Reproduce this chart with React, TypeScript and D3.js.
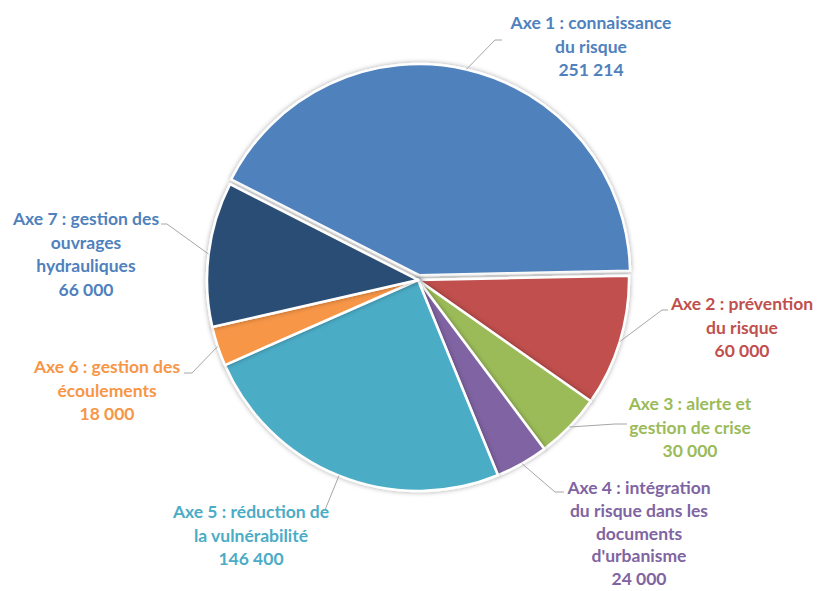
import React from "react";
import * as d3 from "d3";

const categories = [
  "Axe 1 : connaissance du risque",
  "Axe 2 : prévention du risque",
  "Axe 3 : alerte et gestion de crise",
  "Axe 4 : intégration du risque dans les documents d'urbanisme",
  "Axe 5 : réduction de la vulnérabilité",
  "Axe 6 : gestion des écoulements",
  "Axe 7 : gestion des ouvrages hydrauliques",
];
const values = [251214, 60000, 30000, 24000, 146400, 18000, 66000];
const valueLabels = ["251 214", "60 000", "30 000", "24 000", "146 400", "18 000", "66 000"];
const labelLines = [
  ["Axe 1 : connaissance", "du risque"],
  ["Axe 2 : prévention", "du risque"],
  ["Axe 3 : alerte et", "gestion de crise"],
  ["Axe 4 : intégration", "du risque dans les", "documents", "d'urbanisme"],
  ["Axe 5 : réduction de", "la vulnérabilité"],
  ["Axe 6 : gestion des", "écoulements"],
  ["Axe 7 : gestion des", "ouvrages", "hydrauliques"],
];

const sliceColors = ["#4F81BD", "#C0504D", "#9BBB59", "#8064A2", "#4BACC6", "#F79646", "#2C4D75"];
const textColors = ["#4F81BD", "#C0504D", "#9BBB59", "#8064A2", "#4BACC6", "#F79646", "#4F81BD"];

// layout: label centre x, first baseline y, line height, elbow point, horizontal end
const labelLayout = [
  { x: 591, y: 29, lh: 23.5, ex: 495, ey: 40, hx: 502 },
  { x: 742, y: 310, lh: 23.5, ex: 662, ey: 310, hx: 668 },
  { x: 690, y: 410, lh: 23.5, ex: 615, ey: 424, hx: 627 },
  { x: 639, y: 494, lh: 22.8, ex: 555, ey: 492, hx: 564 },
  { x: 251, y: 518, lh: 23.5, ex: 325, ey: 510, hx: 325 },
  { x: 107, y: 373, lh: 23.5, ex: 192, ey: 373, hx: 184 },
  { x: 86, y: 225, lh: 23.5, ex: 167, ey: 224, hx: 161 },
];

const explode = [5, 0, 0, 0, 0, 0, 0];

export default function App() {
  const width = 818;
  const height = 591;
  const cx = 418;
  const cy = 280;
  const r = 211;
  const start = (-63 * Math.PI) / 180;
  const pie = d3
    .pie<number>()
    .sort(null)
    .value((d) => d)
    .startAngle(start)
    .endAngle(start + 2 * Math.PI);
  const arcs = pie(values);
  const arc = d3.arc<d3.PieArcDatum<number>>().innerRadius(0).outerRadius(r);

  return (
    <svg width={width} height={height} style={{ position: "absolute", left: 0, top: 0 }}>
      <defs>
        <filter id="sh" x="-20%" y="-20%" width="140%" height="140%">
          <feDropShadow dx="0" dy="0" stdDeviation="2.5" floodColor="#000" floodOpacity="0.35" />
        </filter>
      </defs>
      <rect width={width} height={height} fill="#fff" />
      <g transform={`translate(${cx},${cy})`}>
        {arcs.map((a, i) => {
          const mid = (a.startAngle + a.endAngle) / 2;
          const ox = Math.sin(mid) * explode[i];
          const oy = -Math.cos(mid) * explode[i];
          return (
            <path
              key={i}
              d={arc(a) || ""}
              transform={`translate(${ox},${oy})`}
              fill={sliceColors[i]}
              stroke="#fff"
              strokeWidth={2.5}
              strokeLinejoin="round"
              filter="url(#sh)"
            />
          );
        })}
      </g>
      {arcs.map((a, i) => {
        const mid = (a.startAngle + a.endAngle) / 2;
        const rr = r + explode[i];
        const sx = cx + Math.sin(mid) * rr;
        const sy = cy - Math.cos(mid) * rr;
        const L = labelLayout[i];
        return (
          <polyline
            key={"l" + i}
            points={`${sx},${sy} ${L.ex},${L.ey} ${L.hx},${L.ey}`}
            fill="none"
            stroke="#A6A6A6"
            strokeWidth={1}
          />
        );
      })}
      {labelLines.map((lines, i) => {
        const L = labelLayout[i];
        const all = [...lines, valueLabels[i]];
        return (
          <text
            key={"t" + i}
            x={L.x}
            y={L.y}
            textAnchor="middle"
            fill={textColors[i]}
            fontFamily="Lato, 'Open Sans', sans-serif"
            fontWeight="bold"
            fontSize={17.5}
            aria-label={categories[i]}
          >
            {all.map((s, j) => (
              <tspan key={j} x={L.x} y={L.y + j * L.lh}>
                {s}
              </tspan>
            ))}
          </text>
        );
      })}
    </svg>
  );
}
